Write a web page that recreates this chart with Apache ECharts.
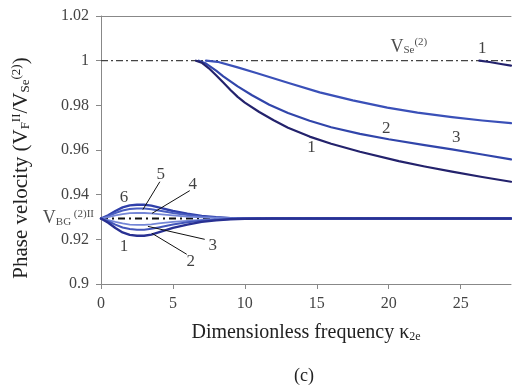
<!DOCTYPE html>
<html><head><meta charset="utf-8">
<script src="https://cdn.jsdelivr.net/npm/echarts@6/dist/echarts.min.js"></script>
<style>html,body{margin:0;padding:0;background:#fff}#c{width:512px;height:391px}</style>
</head><body><div id="c"></div>
<script>
// ---- data ----
const xTicks = [0, 5, 10, 15, 20, 25];
const vRef = 1.0;      // V_Se(2)
const vBG = 0.9293;    // V_BG(2)II

const kUp1 = [6.6, 7.0, 7.5, 8.0, 8.5, 9.0, 9.5, 10.0, 11.0, 12.0, 13.0, 14.5, 16.0, 18.0, 20.7, 22.5, 24.4, 26.5, 28.5];
const vUp1 = [1.0, 0.9991, 0.9966, 0.9935, 0.9902, 0.9869, 0.9838, 0.9812, 0.9770, 0.9733, 0.9700, 0.9660, 0.9628, 0.9592, 0.9550, 0.9526, 0.9503, 0.9479, 0.9458];
const kUp2 = [6.8, 7.3, 8.0, 8.5, 9.5, 10.5, 11.7, 13.0, 14.5, 16.0, 18.0, 20.0, 22.5, 24.4, 26.5, 28.5];
const vUp2 = [1.0, 0.9987, 0.9955, 0.9930, 0.9885, 0.9845, 0.9803, 0.9766, 0.9731, 0.9702, 0.9672, 0.9648, 0.9622, 0.9603, 0.9580, 0.9558];
const kUp3 = [7.3, 8.1, 9.5, 10.8, 13.1, 15.2, 17.5, 19.9, 22.0, 24.4, 26.5, 28.5];
const vUp3 = [1.0, 0.9995, 0.9970, 0.9945, 0.9899, 0.9858, 0.9822, 0.9790, 0.9767, 0.9747, 0.9732, 0.9720];
const kUp1b = [26.3, 27.0, 27.8, 28.5];
const vUp1b = [1.0, 0.9994, 0.9985, 0.9978];

const kLow = [0, 0.5, 1, 1.5, 2, 2.5, 3, 3.5, 4, 5, 6, 7, 8, 9, 10, 12, 15, 20, 25, 28.5];
const low1 = [0.9293, 0.9274, 0.9251, 0.9231, 0.9220, 0.9216, 0.9216, 0.9221, 0.9231, 0.9251, 0.9266, 0.9278, 0.9285, 0.9290, 0.9292, 0.9293, 0.9293, 0.9293, 0.9293, 0.9293];
const low2 = [0.9293, 0.9281, 0.9266, 0.9253, 0.9246, 0.9243, 0.9243, 0.9247, 0.9253, 0.9266, 0.9276, 0.9283, 0.9288, 0.9291, 0.9292, 0.9293, 0.9293, 0.9293, 0.9293, 0.9293];
const low3 = [0.9293, 0.9286, 0.9278, 0.9271, 0.9266, 0.9265, 0.9265, 0.9267, 0.9271, 0.9278, 0.9283, 0.9287, 0.9290, 0.9292, 0.9293, 0.9293, 0.9293, 0.9293, 0.9293, 0.9293];
const low4 = [0.9293, 0.9299, 0.9307, 0.9313, 0.9317, 0.9318, 0.9318, 0.9316, 0.9313, 0.9307, 0.9302, 0.9298, 0.9296, 0.9294, 0.9293, 0.9293, 0.9293, 0.9293, 0.9293, 0.9293];
const low5 = [0.9293, 0.9304, 0.9318, 0.9329, 0.9336, 0.9338, 0.9338, 0.9335, 0.9329, 0.9318, 0.9309, 0.9302, 0.9298, 0.9295, 0.9294, 0.9293, 0.9293, 0.9293, 0.9293, 0.9293];
const low6 = [0.9293, 0.9308, 0.9327, 0.9343, 0.9352, 0.9355, 0.9355, 0.9351, 0.9343, 0.9327, 0.9315, 0.9305, 0.9299, 0.9295, 0.9294, 0.9293, 0.9293, 0.9293, 0.9293, 0.9293];

// curve-number annotations [kappa, v, text]
const notes = [
  [14.63, 0.9613, '1'], [19.83, 0.9698, '2'], [24.69, 0.9658, '3'], [26.5, 1.0053, '1'],
  [1.6, 0.9387, '6'], [4.16, 0.9489, '5'], [6.38, 0.9444, '4'],
  [7.77, 0.9173, '3'], [6.24, 0.9102, '2'], [1.6, 0.9169, '1']
];
// leader lines [[k0,v0],[k1,v1]]
const leaders = [
  [[4.09, 0.9458], [2.91, 0.9333]],
  [[6.17, 0.9418], [3.54, 0.9316]],
  [[7.21, 0.9200], [3.26, 0.9258]],
  [[5.96, 0.9133], [3.54, 0.9227]]
];

const zip = (a, b) => a.map((x, i) => [x, b[i]]);
const serif = 'Liberation Serif';
const richName = (fs) => ({
  sub: { fontFamily: serif, fontSize: Math.round(fs * 0.62), padding: [8, 0, 0, 0], color: '#222' },
  sup: { fontFamily: serif, fontSize: Math.round(fs * 0.62), padding: [0, 0, 10, 0], color: '#222' },
  n: { fontFamily: serif, fontSize: fs, color: '#222' }
});
const richNote = {
  sub: { fontFamily: serif, fontSize: 11, padding: [7, 0, 0, 0], color: '#222' },
  sup: { fontFamily: serif, fontSize: 11, padding: [0, 0, 9, 0], color: '#222' },
  n: { fontFamily: serif, fontSize: 18, color: '#222' }
};

function line(data, color, w, z) {
  return { type: 'line', data, showSymbol: false, symbol: 'none', smooth: false,
    lineStyle: { color, width: w, join: 'round', cap: 'round' }, z: z || 3, silent: true, animation: false };
}

const series = [
  { type: 'line', data: [[0, vRef], [28.5, vRef]], symbol: 'none', lineStyle: { color: '#444', width: 1.2, type: [7, 3, 2, 3] }, z: 2, animation: false },
  { type: 'line', data: [[0, vBG], [28.5, vBG]], symbol: 'none', lineStyle: { color: '#111', width: 2, type: [7, 4, 2, 4] }, z: 2, animation: false },
  line(zip(kLow, low6), '#3040aa', 2.4),
  line(zip(kLow, low5), '#4a5ec0', 2),
  line(zip(kLow, low4), '#7486d6', 1.8),
  line(zip(kLow, low3), '#7486d6', 1.8),
  line(zip(kLow, low2), '#4356ba', 2),
  line(zip(kLow, low1), '#283092', 2.4),
  line(zip(kUp3, vUp3), '#3a50b8', 2.2, 4),
  line(zip(kUp2, vUp2), '#3145aa', 2.2, 4),
  line(zip(kUp1, vUp1), '#23226c', 2.2, 4),
  line(zip(kUp1b, vUp1b), '#23226c', 2.2, 4),
];
leaders.forEach(l => series.push({ type: 'line', data: l, symbol: 'none', lineStyle: { color: '#111', width: 1 }, z: 6, animation: false }));
series.push({
  type: 'scatter', symbolSize: 0, z: 7, animation: false,
  data: notes.map(n => ({ value: [n[0], n[1]], name: n[2] })),
  label: { show: true, position: 'inside', formatter: p => p.name, fontFamily: serif, fontSize: 17, color: '#111' }
});
series.push({
  type: 'scatter', symbolSize: 0, z: 7, animation: false, clip: false,
  data: [
    { value: [21.4, 1.0062], name: 'se' },
    { value: [0, vBG], name: 'bg', label: { position: 'left', distance: 7 } }
  ],
  label: { show: true, color: '#222',
    formatter: p => p.name === 'se' ? '{n|V}{sub|Se}{sup|(2)}' : '{n|V}{sub|BG}{sup| (2)II}',
    position: 'inside', rich: richNote }
});

const chart = echarts.init(document.getElementById('c'));
chart.setOption({
  animation: false,
  grid: { left: 101, top: 16, right: 1, bottom: 107 },
  xAxis: [{
    type: 'value', min: 0, max: 28.5, interval: 5,
    axisLine: { show: true, lineStyle: { color: '#888' } },
    axisTick: { show: true, length: 5, customValues: xTicks, lineStyle: { color: '#888' } },
    axisLabel: { customValues: xTicks, fontFamily: serif, fontSize: 16, color: '#444', margin: 12 },
    splitLine: { show: false },
    name: '{n|Dimensionless frequency κ}{sub|2e}', nameLocation: 'middle', nameGap: 39,
    nameTextStyle: { rich: richName(20) }
  }, {
    type: 'value', position: 'top', min: 0, max: 28.5,
    axisLine: { show: true, lineStyle: { color: '#888' } }, axisTick: { show: false }, axisLabel: { show: false }, splitLine: { show: false }
  }],
  yAxis: {
    type: 'value', min: 0.9, max: 1.02, interval: 0.02,
    axisLine: { show: true, lineStyle: { color: '#888' } },
    axisTick: { show: true, length: 5, lineStyle: { color: '#888' } },
    axisLabel: { fontFamily: serif, fontSize: 16, color: '#444', margin: 12 },
    splitLine: { show: false },
    name: '{n|Phase velocity (V}{sub|F}{sup|II}{n|/V}{sub|Se}{sup|(2)}{n|)}', nameLocation: 'middle', nameGap: 68, nameRotate: 90,
    nameTextStyle: { rich: richName(21), padding: [0, 36, 0, 0] }
  },
  graphic: [{ type: 'text', left: 294, top: 367, style: { text: '(c)', font: '18px "Liberation Serif"', fill: '#222' } }],
  series
});
</script></body></html>
